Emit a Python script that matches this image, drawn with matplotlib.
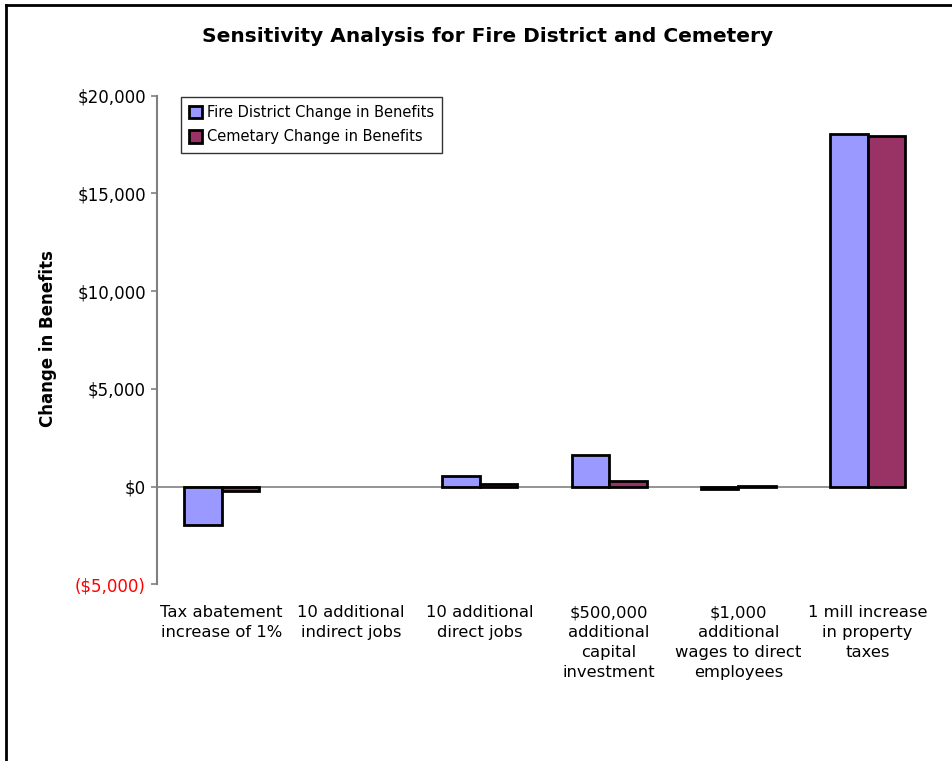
import matplotlib.pyplot as plt
import numpy as np
from matplotlib.lines import Line2D
from matplotlib.ticker import FuncFormatter

# Sensitivity results per scenario
categories = [
    "Tax abatement\nincrease of 1%",
    "10 additional\nindirect jobs",
    "10 additional\ndirect jobs",
    "$500,000\nadditional\ncapital\ninvestment",
    "$1,000\nadditional\nwages to direct\nemployees",
    "1 mill increase\nin property\ntaxes",
]
fire_district = [-1960, 0, 560, 1620, -110, 18030]
cemetery = [-230, 0, 150, 310, 40, 17940]
y_ticks = [-5000, 0, 5000, 10000, 15000, 20000]

FIRE_COLOR = "#9999FF"
CEM_COLOR = "#993366"

plt.rcParams["font.family"] = "DejaVu Sans"

fig = plt.figure(figsize=(9.52, 7.61), dpi=100)
ax = fig.add_axes([0.1649, 0.2321, 0.7857, 0.6421])

x = np.arange(len(categories))
w = 0.29


def draw_series(offset, values, color, label):
    bars = ax.bar(x + offset, values, width=w, color=color, edgecolor="black",
                  linewidth=2, label=label, zorder=3, clip_on=False)
    # a zero-height bar shows nothing
    for b, v in zip(bars, values):
        if v == 0:
            b.set_visible(False)
    return bars


draw_series(-w / 2, fire_district, FIRE_COLOR, "Fire District Change in Benefits")
draw_series(w / 2, cemetery, CEM_COLOR, "Cemetary Change in Benefits")

ax.axhline(0, color="#808080", linewidth=1.2, zorder=2)

ax.set_xlim(-0.5, 5.29)
ax.set_ylim(-5000, 20000)
ax.set_yticks(y_ticks)


def money(v, pos):
    if v < 0:
        return "(${:,.0f})".format(-v)
    return "${:,.0f}".format(v)


ax.yaxis.set_major_formatter(FuncFormatter(money))
ax.tick_params(axis="y", direction="out", length=4, width=1.2, color="#808080",
               labelsize=12, pad=4)
for lbl, v in zip(ax.get_yticklabels(), y_ticks):
    if v < 0:
        lbl.set_color("red")

ax.set_xticks(x)
ax.set_xticklabels(categories, fontsize=11.8, linespacing=1.42)
ax.tick_params(axis="x", length=0, pad=15)

for side in ["top", "right", "bottom"]:
    ax.spines[side].set_visible(False)
ax.spines["left"].set_color("#808080")
ax.spines["left"].set_linewidth(1.5)

ax.set_ylabel("Change in Benefits", fontsize=12, fontweight="bold", labelpad=0)
ax.yaxis.set_label_coords(-0.134, 0.504)

fig.text(488 / 952, 1 - 37 / 761, "Sensitivity Analysis for Fire District and Cemetery",
         ha="center", va="center", fontsize=14.5, fontweight="bold")

leg = ax.legend(loc="upper left", bbox_to_anchor=(181 / 952, 1 - 97 / 761),
                bbox_transform=fig.transFigure, fontsize=10.5, frameon=True,
                fancybox=False, edgecolor="black", handlelength=0.9,
                handleheight=0.9, handletextpad=0.3, borderpad=0.55,
                labelspacing=0.65, borderaxespad=0)
leg.get_frame().set_linewidth(1.0)

# chart border along the left and top edges
fig.add_artist(Line2D([6 / 952, 6 / 952], [0, 1 - 5 / 761], color="black",
                      linewidth=2, transform=fig.transFigure))
fig.add_artist(Line2D([6 / 952, 1], [1 - 5 / 761, 1 - 5 / 761], color="black",
                      linewidth=2, transform=fig.transFigure))

fig.savefig("out.png", dpi=100)
